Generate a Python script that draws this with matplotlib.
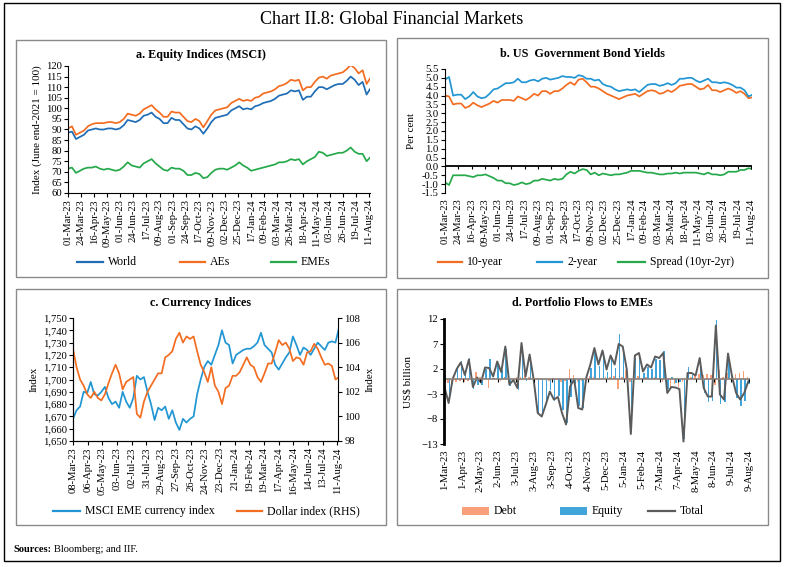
import matplotlib.pyplot as plt
import pandas as pd
from matplotlib.patches import Rectangle
from matplotlib.lines import Line2D
from matplotlib.ticker import MultipleLocator, FuncFormatter

plt.rcParams['font.family'] = ['Liberation Serif', 'DejaVu Serif']

W, H = 785, 567

# ---------------- data (weekly readings) ----------------
# a. Equity indices (MSCI), June end-2021 = 100, weekly from 01-Mar-23
world = [88.5, 89, 85.5, 86.5, 87.5, 89.5, 90, 90.5, 90, 90, 90.5, 90.5, 90, 90.5,
         92, 94.5, 94, 93.5, 94.5, 96.5, 97, 98, 96, 95, 93, 93, 95.5, 94.5, 94.5,
         92.5, 90.5, 90, 91.5, 90.5, 88, 90.5, 93.5, 95.5, 96, 96.5, 97, 99, 100,
         101, 99.5, 100, 99.5, 101, 101.5, 102.5, 103, 103.5, 104.5, 106, 106.5,
         107, 108.5, 108, 108.5, 104, 105.5, 105.5, 108, 110, 110, 109, 110, 111,
         111.5, 111.5, 113, 115, 113.5, 111, 112.5, 106.5, 109.5]
aes = [90.5, 91.5, 87.5, 88.5, 89.5, 91.5, 92.5, 93, 93, 93, 93.5, 93.5, 93, 93.5,
       95, 97.5, 97, 96.5, 97.5, 99.5, 100.5, 101.5, 99.5, 98, 96, 96, 98.5, 98, 98,
       96, 94, 93.5, 95, 94, 91, 94, 97, 99, 99.5, 100, 100.5, 102.5, 103.5, 104.5,
       103.5, 104, 103.5, 105, 105.5, 107, 107.5, 108, 109, 110.5, 111, 112, 113.5,
       113, 113.5, 108.5, 110, 110, 112.5, 114.5, 115, 114, 115.5, 116, 116.5, 117,
       118.5, 120.5, 119, 116.5, 118, 111.5, 114.5]
emes = [71.5, 72, 69.5, 70.5, 71.5, 72, 72, 72.5, 71.5, 71, 71.5, 71, 70.5, 71,
        72.5, 74.5, 73, 72.5, 72, 74, 75, 76, 74, 72.5, 71, 70.5, 72, 71.5, 71.5,
        70.5, 68.5, 68.5, 69.5, 69, 67, 67.5, 69.5, 71, 71.5, 71.5, 71, 72, 73, 74.5,
        73, 72, 70.5, 71, 71.5, 72, 72.5, 73, 73.5, 74.5, 74.5, 75, 76, 75.5, 76,
        73.5, 75, 76, 77, 79.5, 79, 77.5, 78, 78.5, 79, 79, 80, 81.5, 79.5, 78.5,
        78.5, 75, 77]

# b. US government bond yields (per cent), weekly from 01-Mar-23
y10 = [4.0, 3.95, 3.5, 3.55, 3.55, 3.3, 3.4, 3.6, 3.45, 3.35, 3.45, 3.55, 3.7, 3.6,
       3.75, 3.75, 3.75, 3.7, 3.95, 3.85, 3.75, 3.9, 4.1, 4.0, 4.25, 4.25, 4.1, 4.25,
       4.25, 4.4, 4.6, 4.75, 4.6, 4.9, 4.95, 4.75, 4.5, 4.5, 4.4, 4.25, 4.1, 4.0, 3.9,
       3.8, 3.9, 4.0, 4.05, 4.1, 3.95, 4.1, 4.25, 4.3, 4.25, 4.1, 4.15, 4.3, 4.2,
       4.35, 4.55, 4.6, 4.65, 4.65, 4.5, 4.35, 4.4, 4.6, 4.3, 4.3, 4.2, 4.3, 4.4,
       4.3, 4.15, 4.25, 4.1, 3.85, 3.9]
y2 = [4.9, 5.05, 4.0, 4.05, 4.05, 3.8, 3.95, 4.2, 3.95, 3.85, 3.9, 4.1, 4.35, 4.4,
      4.55, 4.7, 4.7, 4.75, 4.95, 4.75, 4.75, 4.85, 4.9, 4.8, 4.95, 5.0, 4.9, 4.95,
      5.0, 5.1, 5.05, 5.05, 5.0, 5.15, 5.1, 4.95, 4.95, 4.85, 4.9, 4.65, 4.55, 4.5,
      4.35, 4.25, 4.3, 4.35, 4.3, 4.35, 4.2, 4.4, 4.6, 4.65, 4.65, 4.55, 4.6, 4.7,
      4.6, 4.7, 4.95, 4.95, 5.0, 5.0, 4.85, 4.75, 4.85, 4.95, 4.75, 4.75, 4.7, 4.75,
      4.7, 4.6, 4.45, 4.45, 4.3, 3.95, 4.05]
spread = [-0.9, -1.05, -0.5, -0.5, -0.5, -0.5, -0.55, -0.6, -0.5, -0.5, -0.45, -0.55,
          -0.65, -0.8, -0.8, -0.95, -0.95, -1.05, -1.0, -0.9, -1.0, -0.95, -0.8, -0.8,
          -0.7, -0.75, -0.8, -0.7, -0.75, -0.7, -0.45, -0.3, -0.4, -0.25, -0.15, -0.2,
          -0.45, -0.35, -0.5, -0.4, -0.45, -0.5, -0.45, -0.45, -0.4, -0.35, -0.25,
          -0.25, -0.25, -0.3, -0.35, -0.35, -0.4, -0.45, -0.45, -0.4, -0.4, -0.35,
          -0.4, -0.35, -0.35, -0.35, -0.35, -0.4, -0.45, -0.35, -0.45, -0.45, -0.5,
          -0.45, -0.3, -0.3, -0.3, -0.2, -0.2, -0.1, -0.15]

# c. Currency indices, weekly from 08-Mar-23
eme_fx = [1668, 1675, 1678, 1690, 1689, 1698, 1688, 1687, 1690, 1694, 1685, 1680,
          1682, 1677, 1690, 1682, 1677, 1685, 1703, 1700, 1702, 1690, 1680, 1667,
          1677, 1675, 1678, 1668, 1675, 1665, 1659, 1668, 1665, 1668, 1670, 1688,
          1700, 1710, 1715, 1712, 1720, 1728, 1740, 1730, 1728, 1713, 1720, 1722,
          1724, 1725, 1725, 1727, 1730, 1738, 1728, 1725, 1722, 1712, 1708, 1713,
          1718, 1722, 1735, 1728, 1720, 1726, 1724, 1720, 1725, 1730, 1727, 1724,
          1730, 1731, 1730, 1742]
dollar = [105.5, 104, 103, 102.5, 101.8, 101.5, 102, 101.5, 101.3, 101.8, 102.7,
          103.5, 104.2, 103.5, 102.2, 102.8, 103, 103.2, 100.2, 99.9, 101.2, 102,
          102.5, 103, 103.5, 103.5, 104.8, 105, 105.3, 106.3, 106.8, 106, 106.5,
          106.3, 106.5, 105.3, 104.2, 103.6, 102.8, 104, 102.5, 102, 101, 102.3,
          102.5, 103.3, 103.3, 103.6, 104.2, 104.8, 104.2, 104, 103.2, 102.8, 103.5,
          104.3, 104.3, 105.2, 106.2, 105.8, 106, 105.5, 104.5, 104.8, 104.7, 104.2,
          105.2, 105.3, 105.9, 105.5, 104.8, 104.2, 104.3, 104.1, 103, 103.2]

# d. Portfolio flows to EMEs (US$ billion), weekly from 1-Mar-23
debt = [-2.5, -0.8, -0.5, -0.6, -0.3, -0.5, -0.4, 0.3, 1.5, 0.5, 0.3, -1.8, 0.3, 0.3,
        -0.4, 0.5, 0.2, -0.3, 0.4, 0.5, 0.8, 0.4, 0.2, 0.2, -0.2, 0.1, -0.3, 0.3,
        -0.2, -0.6, -0.4, 2.0, 0.8, -0.5, -0.3, 0.2, 0.7, 0.4, 0.3, 0.3, 0.5, 0.4,
        0.6, -2.0, 0.5, 1.8, -0.5, 0.4, 0.6, 0.3, 0.4, 0.3, 0.5, 0.3, -0.5, -0.8,
        -2.0, -1.0, -1.5, -0.5, -1.3, 0.4, 0.8, 1.0, 0.9, 1.0, 0.8, -1.2, 1.8, 0.4,
        1.2, 0.6, 1.0, 1.2, 1.6, 0.5]
equity = [0.8, -4.0, 0.5, 2.6, 3.6, 1.3, 4.3, -1.9, -1.2, -1.2, 2.0, 4.0, 0.2, 3.2,
          1.8, 6.0, -1.3, 0.1, -2.2, 6.7, -0.3, 4.5, -0.3, -7.0, -7.3, -5.2, -2.2,
          -4.4, -3.4, -6.2, -8.7, -3.5, -0.9, -5.3, -5.8, 0.1, 2.2, 5.8, 2.6, 5.4,
          1.4, 4.3, 2.3, 9.0, 6.0, 0.1, -10.5, 4.3, 4.6, 1.2, 2.5, 2.0, 4.0, 3.9, 5.7,
          -2.0, 0.4, -0.7, -0.5, -12.0, 2.5, 0.8, -0.1, 3.2, -2.7, -4.5, -4.3, 11.9,
          -4.9, -4.5, 3.9, -0.1, -3.8, -5.3, -4.4, -1.0]
total = [-1.7, -4.8, 0.0, 2.0, 3.3, 0.8, 3.9, -1.6, 0.3, -0.7, 2.3, 2.2, 0.5, 3.5,
         1.4, 6.5, -1.1, -0.2, -1.8, 7.2, 0.5, 4.9, -0.1, -6.8, -7.5, -5.1, -2.5,
         -4.1, -3.6, -6.8, -9.1, -1.5, -0.1, -5.8, -6.1, 0.3, 2.9, 6.2, 2.9, 5.7, 1.9,
         4.7, 2.9, 7.0, 6.5, 1.9, -11.0, 4.7, 5.2, 1.5, 2.9, 2.3, 4.5, 4.2, 5.2, -2.8,
         -1.6, -1.7, -2.0, -12.5, 1.2, 1.2, 0.7, 4.2, -1.8, -3.5, -3.5, 10.7, -3.1,
         -4.1, 5.1, 0.5, -2.8, -4.1, -2.8, -0.5]

weeks_ab = pd.date_range('2023-03-01', periods=len(world), freq='7D')
weeks_c = pd.date_range('2023-03-08', periods=len(eme_fx), freq='7D')
weeks_d = pd.date_range('2023-03-01', periods=len(total), freq='7D')
ticks_ab = pd.date_range('2023-03-01', '2024-08-11', freq='23D')
ticks_c = pd.date_range('2023-03-08', '2024-08-11', freq='29D')
ticks_d = pd.date_range('2023-03-01', '2024-08-09', freq='31D')

# ---------------- styling ----------------
BLUE = '#1f6db5'
LBLUE = '#2196d3'
ORANGE = '#f36d21'
GREEN = '#25a94a'
DEBT = '#f7a07a'
EQUITY = '#41a5dc'
TOTAL = '#5b5b5b'
TICK = 7.7
LW = 1.25


def box(x0, y0, x1, y1):
    return [x0 / W, 1 - y1 / H, (x1 - x0) / W, (y1 - y0) / H]


def frame(x0, y0, x1, y1, color='#8a8a8a', lw=1.0):
    fig.add_artist(Rectangle((x0 / W, 1 - y1 / H), (x1 - x0) / W, (y1 - y0) / H,
                             transform=fig.transFigure, fill=False,
                             edgecolor=color, lw=lw))


def ftext(x, y, s, **kw):
    fig.text(x / W, 1 - y / H, s, **kw)


def leg_line(x0, x1, y, color, label, lw=1.6):
    fig.add_artist(Line2D([x0 / W, x1 / W], [1 - y / H, 1 - y / H],
                          transform=fig.transFigure, color=color, lw=lw))
    ftext(x1 + 5, y, label, fontsize=8.5, va='center')


def leg_patch(x0, x1, y, color, label):
    fig.add_artist(Rectangle((x0 / W, 1 - (y + 4) / H), (x1 - x0) / W, 8 / H,
                             transform=fig.transFigure, color=color, lw=0))
    ftext(x1 + 5, y, label, fontsize=8.5, va='center')


def style(ax):
    for s in ['top', 'right']:
        ax.spines[s].set_visible(False)
    ax.tick_params(labelsize=TICK, length=3, width=0.8, pad=1.5)


fig = plt.figure(figsize=(W / 100, H / 100), dpi=100)

frame(4, 3, 780, 561, color='black', lw=1.0)
ftext(392, 19, 'Chart II.8: Global Financial Markets', fontsize=13, ha='center', va='center')

# ---------------- a ----------------
frame(16, 40, 386, 277)
ftext(201, 55, 'a. Equity Indices (MSCI)', fontsize=8.7, weight='bold', ha='center', va='center')
ax = fig.add_axes(box(68, 66, 370, 193))
ax.plot(weeks_ab, world, color=BLUE, lw=LW)
ax.plot(weeks_ab, aes, color=ORANGE, lw=LW)
ax.plot(weeks_ab, emes, color=GREEN, lw=LW)
ax.set_ylim(60, 120)
ax.yaxis.set_major_locator(MultipleLocator(5))
ax.set_xlim(pd.Timestamp('2023-03-01'), pd.Timestamp('2024-08-13'))
ax.set_xticks(ticks_ab)
ax.set_xticklabels([d.strftime('%d-%b-%y') for d in ticks_ab], rotation=90)
style(ax)
ax.set_ylabel('Index (June end-2021 = 100)', fontsize=8, labelpad=3)
leg_line(77, 103, 262, BLUE, 'World')
leg_line(180, 205, 262, ORANGE, 'AEs')
leg_line(271, 296, 262, GREEN, 'EMEs')

# ---------------- b ----------------
frame(397, 38, 768, 278)
ftext(582, 54, 'b. US  Government Bond Yields', fontsize=8.7, weight='bold', ha='center', va='center')
ax = fig.add_axes(box(445, 69, 752, 193))
ax.plot(weeks_ab, y10, color=ORANGE, lw=LW)
ax.plot(weeks_ab, y2, color=LBLUE, lw=LW)
ax.plot(weeks_ab, spread, color=GREEN, lw=LW)
ax.axhline(0, color='black', lw=1.3)
ax.vlines(ticks_ab, -0.15, 0, color='black', lw=0.8)
ax.set_ylim(-1.5, 5.5)
ax.yaxis.set_major_locator(MultipleLocator(0.5))
ax.yaxis.set_major_formatter(FuncFormatter(lambda v, p: f'{v:.1f}'))
ax.set_xlim(pd.Timestamp('2023-03-01'), pd.Timestamp('2024-08-13'))
ax.set_xticks(ticks_ab)
ax.set_xticklabels([d.strftime('%d-%b-%y') for d in ticks_ab], rotation=90)
style(ax)
ax.spines['bottom'].set_visible(False)
ax.tick_params(axis='x', length=0, pad=4)
ax.set_ylabel('Per cent', fontsize=8, labelpad=4)
leg_line(438, 462, 262, ORANGE, '10-year')
leg_line(537, 562, 262, LBLUE, '2-year')
leg_line(618, 645, 262, GREEN, 'Spread (10yr-2yr)')

# ---------------- c ----------------
frame(16, 289, 386, 525)
ftext(201, 303, 'c. Currency Indices', fontsize=8.7, weight='bold', ha='center', va='center')
ax = fig.add_axes(box(73, 318, 338, 441))
ax.plot(weeks_c, eme_fx, color=LBLUE, lw=LW)
ax.set_ylim(1650, 1750)
ax.yaxis.set_major_locator(MultipleLocator(10))
ax.yaxis.set_major_formatter(FuncFormatter(lambda v, p: f'{v:,.0f}'))
ax.set_xlim(pd.Timestamp('2023-03-08'), pd.Timestamp('2024-08-12'))
ax.set_xticks(ticks_c)
ax.set_xticklabels([d.strftime('%d-%b-%y') for d in ticks_c], rotation=90)
style(ax)
ax.set_ylabel('Index', fontsize=8, labelpad=3)
axr = ax.twinx()
axr.plot(weeks_c, dollar, color=ORANGE, lw=LW)
axr.set_ylim(98, 108)
axr.yaxis.set_major_locator(MultipleLocator(2))
axr.spines['top'].set_visible(False)
axr.tick_params(labelsize=TICK, length=3, width=0.8, pad=1.5)
axr.set_ylabel('Index', fontsize=8, labelpad=4)
leg_line(53, 80, 511, LBLUE, 'MSCI EME currency index')
leg_line(237, 262, 511, ORANGE, 'Dollar index (RHS)')

# ---------------- d ----------------
frame(397, 289, 768, 525)
ftext(582, 303, 'd. Portfolio Flows to EMEs', fontsize=8.7, weight='bold', ha='center', va='center')
ax = fig.add_axes(box(444, 319, 750, 444))
off = pd.Timedelta(days=1.4)
ax.bar(weeks_d - off, debt, width=2.6, color=DEBT, lw=0)
ax.bar(weeks_d + off, equity, width=2.6, color=EQUITY, lw=0)
ax.plot(weeks_d, total, color=TOTAL, lw=1.4)
ax.axhline(0, color='#8a7f7a', lw=1.2)
ax.vlines(ticks_d, -0.6, 0, color='black', lw=0.8)
ax.set_ylim(-13, 12)
ax.set_yticks([12, 7, 2, -3, -8, -13])
ax.set_xlim(pd.Timestamp('2023-02-28'), pd.Timestamp('2024-08-10'))
ax.set_xticks(ticks_d)
ax.set_xticklabels([f'{d.day}-{d:%b-%y}' for d in ticks_d], rotation=90)
style(ax)
ax.spines['bottom'].set_visible(False)
ax.spines['left'].set_linewidth(2)
ax.tick_params(axis='x', length=0, pad=4)
ax.set_ylabel('US$ billion', fontsize=8, labelpad=6)
leg_patch(462, 489, 511, DEBT, 'Debt')
leg_patch(560, 587, 511, EQUITY, 'Equity')
leg_line(648, 675, 511, TOTAL, 'Total')

# ---------------- source ----------------
ftext(13, 549, 'Sources:', fontsize=7.5, weight='bold', va='center')
ftext(54, 549, 'Bloomberg; and IIF.', fontsize=7.5, va='center')

fig.savefig('out.png', dpi=100)
